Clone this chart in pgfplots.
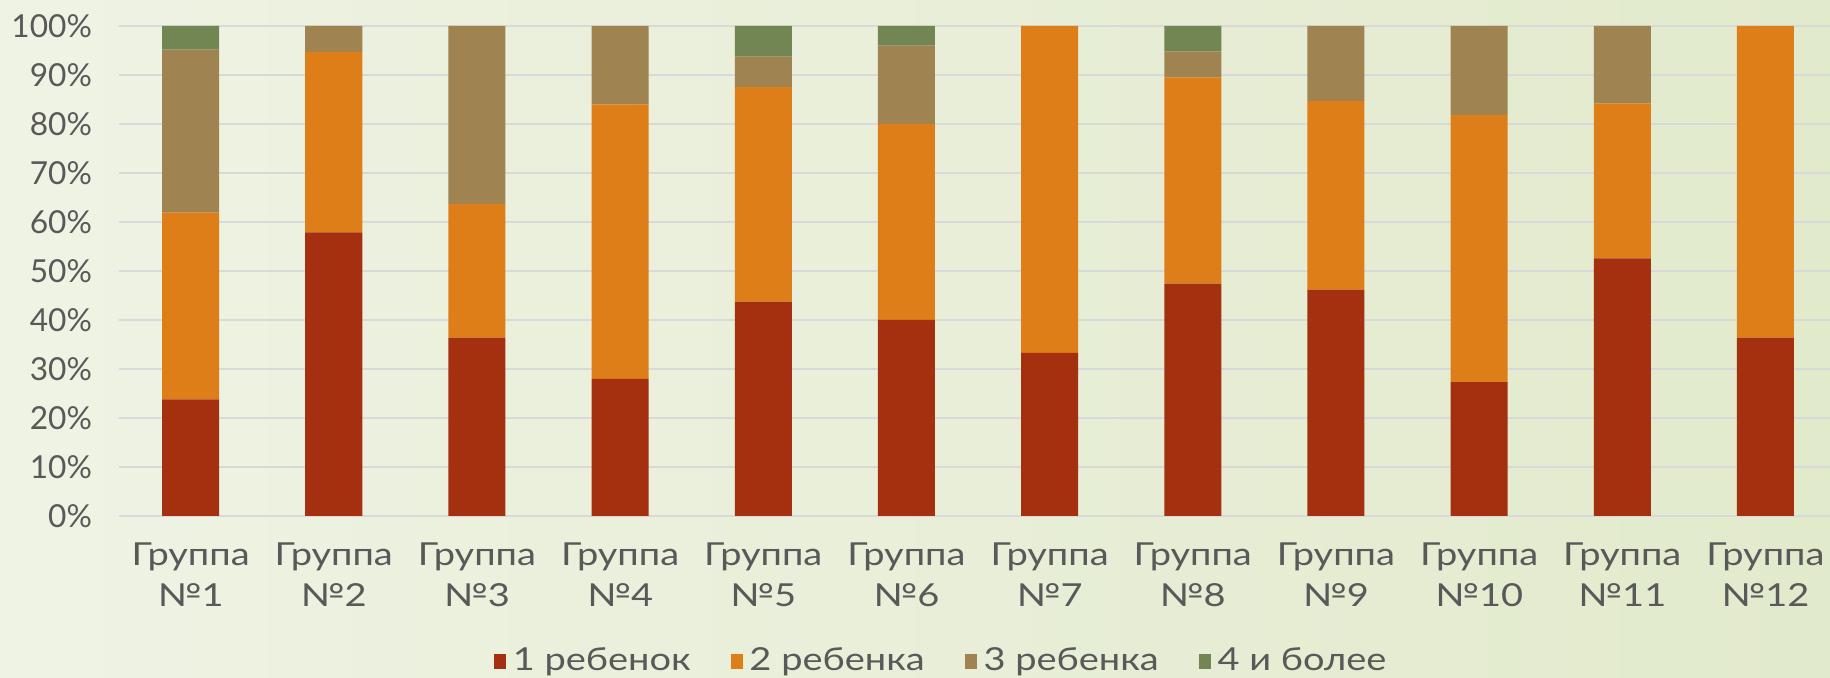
\documentclass[border=0pt]{standalone}
\usepackage{pgfplots}
\pgfplotsset{compat=1.18}
\usepackage{fontspec}
\setmainfont{Lato}
\newfontfamily\wide[FakeStretch=1.2]{Lato}
\definecolor{c1}{HTML}{A5300F}
\definecolor{c2}{HTML}{DE7E18}
\definecolor{c3}{HTML}{9F8351}
\definecolor{c4}{HTML}{728653}
\definecolor{txt}{HTML}{595959}
\definecolor{grd}{HTML}{D9D9D9}
\definecolor{bgL}{HTML}{EFF3E4}
\definecolor{bgM}{HTML}{FCFCF9}
\definecolor{bgR}{HTML}{E2EACC}
\begin{document}
\begin{tikzpicture}
\useasboundingbox (0,0) rectangle (549pt,203.4pt);
\shade[left color=bgL, middle color=bgM, right color=bgR] (0,0) rectangle (549pt,203.4pt);
\clip (0,0) rectangle (549pt,203.4pt);
\begin{axis}[
  at={(35.7pt,48.6pt)}, anchor=south west,
  width=515.4pt, height=147pt, scale only axis,
  ybar stacked, bar width=17.1pt,
  xmin=-0.5, xmax=11.5, ymin=0, ymax=100,
  xtick={0,...,11},
  xticklabels={{Группа\\№1},{Группа\\№2},{Группа\\№3},{Группа\\№4},{Группа\\№5},{Группа\\№6},{Группа\\№7},{Группа\\№8},{Группа\\№9},{Группа\\№10},{Группа\\№11},{Группа\\№12}},
  ytick={0,10,...,100},
  yticklabels={0\%,10\%,20\%,30\%,40\%,50\%,60\%,70\%,80\%,90\%,100\%},
  ymajorgrids, grid style={grd, line width=0.5pt},
  axis line style={draw=none}, tick style={draw=none},
  xticklabel style={align=center, font=\wide\fontsize{9.5}{12.2}\selectfont, text=txt, yshift=-4.5pt},
  yticklabel style={font=\fontsize{9.5}{11}\selectfont, text=txt, xshift=-4.6pt},
  legend style={draw=none, fill=none, at={(0.48,-0.297)}, anchor=center,
    font=\wide\fontsize{9.5}{11}\selectfont, text=txt,
    /tikz/every even column/.append style={column sep=10pt}},
  legend columns=4,
  legend image code/.code={\fill[#1] (0pt,-2.2pt) rectangle (3.6pt,2.2pt);},
]
\addplot[fill=c1, draw=none] coordinates {(0,23.8) (1,57.9) (2,36.4) (3,28) (4,43.75) (5,40) (6,33.3) (7,47.4) (8,46.2) (9,27.3) (10,52.6) (11,36.4)};
\addplot[fill=c2, draw=none] coordinates {(0,38.1) (1,36.8) (2,27.3) (3,56) (4,43.75) (5,40) (6,66.7) (7,42.1) (8,38.5) (9,54.5) (10,31.6) (11,63.6)};
\addplot[fill=c3, draw=none] coordinates {(0,33.3) (1,5.3) (2,36.3) (3,16) (4,6.25) (5,16) (6,0) (7,5.3) (8,15.3) (9,18.2) (10,15.8) (11,0)};
\addplot[fill=c4, draw=none] coordinates {(0,4.8) (1,0) (2,0) (3,0) (4,6.25) (5,4) (6,0) (7,5.2) (8,0) (9,0) (10,0) (11,0)};
\legend{1 ребенок, 2 ребенка, 3 ребенка, 4 и более}
\end{axis}
\end{tikzpicture}
\end{document}
